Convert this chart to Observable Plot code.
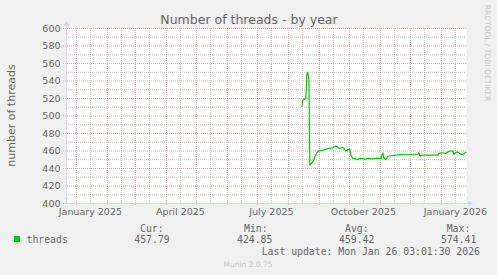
<!DOCTYPE html>
<html><head><meta charset="utf-8">
<script src="https://cdn.jsdelivr.net/npm/d3@7"></script>
<script src="https://cdn.jsdelivr.net/npm/@observablehq/plot@0.6"></script>
<style>body{margin:0;background:#f0f0f0;} svg{display:block}</style>
</head><body><div id="chart"></div>
<script>
const dates = ["2025-08-14","2025-08-15","2025-08-16","2025-08-18","2025-08-19","2025-08-20","2025-08-21","2025-08-22","2025-08-25","2025-08-27","2025-08-29","2025-08-31","2025-09-04","2025-09-07","2025-09-10","2025-09-14","2025-09-15","2025-09-18","2025-09-20","2025-09-24","2025-09-25","2025-09-27","2025-09-29","2025-10-01","2025-10-02","2025-10-04","2025-10-08","2025-10-12","2025-10-16","2025-10-20","2025-10-24","2025-10-28","2025-11-01","2025-11-03","2025-11-04","2025-11-06","2025-11-08","2025-11-14","2025-11-21","2025-11-26","2025-12-01","2025-12-08","2025-12-09","2025-12-10","2025-12-13","2025-12-21","2025-12-28","2025-12-29","2026-01-02","2026-01-05","2026-01-08","2026-01-12","2026-01-13","2026-01-16","2026-01-18","2026-01-20","2026-01-22","2026-01-24","2026-01-25"];
const threads = [511,518,519,520,548,550,541,444,447.6,453,458,460,461,461.8,463,463.5,465,465.5,463,464,463,460,462,462,455,451.5,450.5,451.5,450.8,451.6,451,451.8,451.5,458,452,450.3,454,455,456,455.7,456,456.4,458,454.5,455.3,455.3,455.3,457.2,458,457.2,459.8,459.8,456.4,459,458,456.4,456,458,458.3];
const monthStarts = ["2025-01-01","2025-02-01","2025-03-01","2025-04-01","2025-05-01","2025-06-01","2025-07-01","2025-08-01","2025-09-01","2025-10-01","2025-11-01","2025-12-01","2026-01-01"];
const midMonths = ["2025-01-15","2025-02-15","2025-03-15","2025-04-15","2025-05-15","2025-06-15","2025-07-15","2025-08-15","2025-09-15","2025-10-15","2025-11-15","2025-12-15","2026-01-15"];
const labelDates = ["2025-01-15","2025-04-15","2025-07-15","2025-10-15","2026-01-15"];
const labelTexts = ["January 2025","April 2025","July 2025","October 2025","January 2026"];
const yMajor = [400,420,440,460,480,500,520,540,560,580,600];
const yMinor = [410,430,450,470,490,510,530,550,570,590];
const legendHeads = ["Cur:","Min:","Avg:","Max:"];
const legendValues = ["457.79","424.85","459.42","574.41"];
const seriesName = "threads";
const endTime = new Date("2026-01-26T03:01:30Z");
const startTime = new Date(endTime.getTime() - 400*864e5);

const data = dates.map((d,i)=>({date:new Date(d+"T12:00:00Z"), v:threads[i]}));
const toD = s => new Date(s+"T00:00:00Z");
const labelMap = new Map(labelDates.map((d,i)=>[+toD(d), labelTexts[i]]));

const GRID = "#8f8f8f", MGRID = "#de5050", AXIS = "#CFD6F8", FONT = "#666666";

const chart = Plot.plot({
  width: 497, height: 275,
  marginLeft: 66, marginRight: 31, marginTop: 28, marginBottom: 72,
  style: {background:"#f0f0f0", color: FONT, fontFamily:"DejaVu Sans", fontSize:"9.5px"},
  x: {type:"utc", domain:[startTime, endTime]},
  y: {domain:[400,600]},
  marks: [
    Plot.frame({fill:"white", stroke:"none"}),
    Plot.ruleY(yMinor, {stroke:GRID, strokeOpacity:0.5, strokeDasharray:"1,1"}),
    Plot.ruleX(midMonths.map(toD), {stroke:GRID, strokeOpacity:0.5, strokeDasharray:"1,1"}),
    Plot.ruleY(yMajor, {stroke:MGRID, strokeOpacity:0.45, strokeDasharray:"1,1", insetLeft:-3}),
    Plot.ruleX(monthStarts.map(toD), {stroke:MGRID, strokeOpacity:0.45, strokeDasharray:"1,1", insetBottom:-3}),
    Plot.ruleX([startTime], {stroke:AXIS, insetTop:-4}),
    Plot.ruleY([400], {stroke:AXIS, insetRight:-4}),
    Plot.line(data, {x:"date", y:"v", stroke:"#00cc00", strokeWidth:1.2}),
    Plot.axisY(yMajor, {tickSize:0, tickPadding:6, label:null}),
    Plot.axisX(labelDates.map(toD), {tickSize:0, tickPadding:5, label:null, tickFormat: d => labelMap.get(+d)})
  ]
});
document.getElementById("chart").appendChild(chart);

const svg = d3.select(chart);
const xs = chart.scale("x"), ys = chart.scale("y");
const ax = xs.apply(startTime), ay = ys.apply(400), topY = ys.apply(600), rightX = xs.apply(endTime);
// arrows
svg.append("path").attr("fill", AXIS)
  .attr("d", `M${ax-2.5},${topY-2}L${ax+0.5},${topY-7}L${ax+3.5},${topY-2}Z`);
svg.append("path").attr("fill", AXIS)
  .attr("d", `M${rightX+2},${ay-2.5}L${rightX+7},${ay+0.5}L${rightX+2},${ay+3.5}Z`);

// title
svg.append("text").attr("x", 249).attr("y", 24).attr("text-anchor","middle")
  .attr("font-size","12.5px").attr("fill",FONT).text("Number of threads - by year");
// y label
svg.append("text").attr("transform",`translate(15,${(ay+topY)/2}) rotate(-90)`).attr("text-anchor","middle")
  .attr("font-size","11px").attr("fill",FONT).text("number of threads");
// rrdtool watermark
svg.append("text").attr("transform",`translate(485,53) rotate(90)`).attr("text-anchor","middle")
  .attr("font-size","7.5px").attr("fill","#c8c8c8").text("RRDTOOL / TOBI OETIKER");
// legend
const mono = "DejaVu Sans Mono";
const lt = (x,y,s) => svg.append("text").attr("x",x).attr("y",y).attr("text-anchor","start")
  .attr("font-family",mono).attr("font-size","9.8px").attr("fill",FONT).text(s);
svg.append("rect").attr("x",14).attr("y",236).attr("width",6).attr("height",6).attr("fill","#00cc00");
lt(26.5, 243, seriesName);
const headX = [140,244,345,446.7], valX = [134.3,237,339,441];
legendHeads.forEach((h,i)=>{ lt(headX[i], 231.5, h); lt(valX[i], 243, legendValues[i]); });
lt(261.7, 255, "Last update: Mon Jan 26 03:01:30 2026");
svg.append("text").attr("x",248).attr("y",267).attr("text-anchor","middle").attr("font-size","7.5px").attr("fill","#c8c8c8").text("Munin 2.0.75");
</script></body></html>
